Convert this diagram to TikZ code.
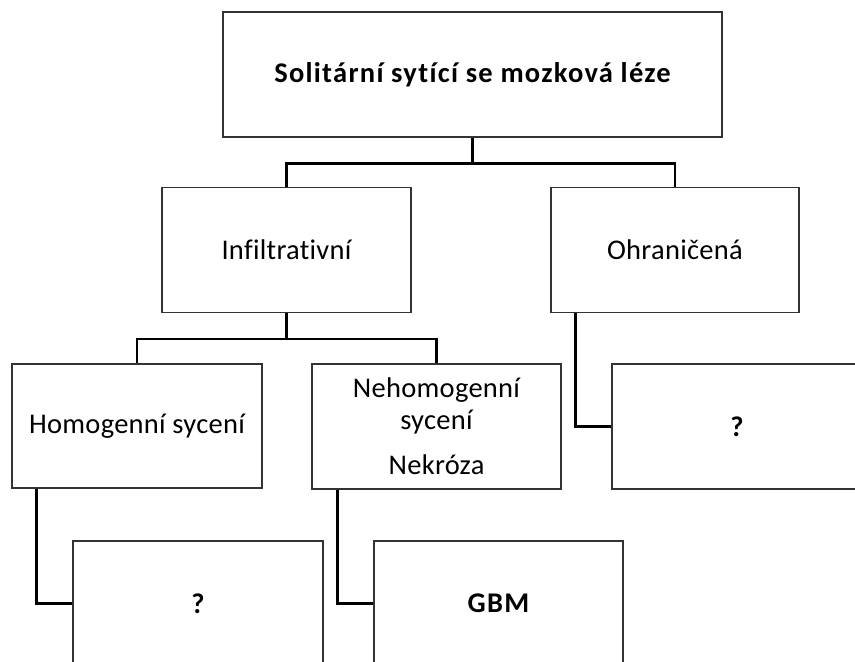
\documentclass[tikz,border=0pt]{standalone}
\usepackage{fontspec}
\setmainfont{Carlito}[Ligatures={NoCommon}, UprightFeatures={LetterSpace=1}, BoldFeatures={LetterSpace=4.5}]
\usetikzlibrary{calc}
\tikzset{
  box/.style={draw=black!80, line width=1.1pt, fill=white, rectangle, minimum width=250pt, minimum height=125pt, inner sep=0pt, align=center, font=\fontsize{28.5}{32}\selectfont},
  boldbox/.style={box, font=\fontsize{28.5}{32}\selectfont\bfseries},
  conn/.style={draw=black, line width=2.3pt}
}
\begin{document}
\begin{tikzpicture}[x=1pt,y=-1pt]
\useasboundingbox (0,0) rectangle (855,662);
\clip (0,0) rectangle (855,662);
\node[boldbox, minimum width=499pt] (top) at (472.5,74.5) {Solitární sytící se mozková léze};
\node[box, minimum width=249pt] (inf) at (286.5,250) {Infiltrativní};
\node[box, minimum width=248pt] (ohr) at (675,250) {Ohraničená};
\node[box, minimum height=124pt] (hom) at (137,426) {Homogenní sycení};
\node[box, minimum width=249pt] (neh) at (436.5,426.5) {Nehomogenní\\sycení\\[13pt]Nekróza};
\node[boldbox] (qr) at (737,426.5) {?};
\node[boldbox] (ql) at (198,603.5) {?};
\node[boldbox, minimum width=249pt] (gbm) at (498.5,603.5) {GBM};
\draw[conn] (top.south) -- ++(0,26) -| (inf.north);
\draw[conn] (top.south) -- ++(0,26) -| (ohr.north);
\draw[conn] (inf.south) -- ++(0,26) -| (hom.north);
\draw[conn] (inf.south) -- ++(0,26) -| (neh.north);
\draw[conn] ([xshift=25pt]hom.south west) |- (ql.west);
\draw[conn] ([xshift=26pt]neh.south west) |- (gbm.west);
\draw[conn] ([xshift=25pt]ohr.south west) |- (qr.west);
\end{tikzpicture}
\end{document}
